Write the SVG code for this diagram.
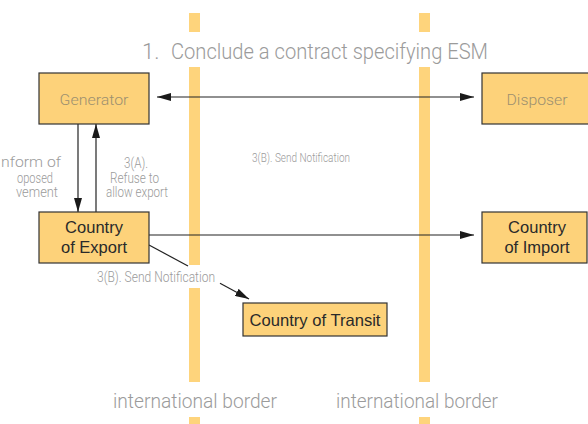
<svg xmlns="http://www.w3.org/2000/svg" width="588" height="424" viewBox="0 0 588 424">
<defs>
<style>
.bar{fill:#FED47C}
.box{fill:#FDD27A;stroke:#333;stroke-width:1.2}
.lt{font-family:Roboto,"Liberation Sans",Arial,sans-serif;fill:#9b9b9b;font-weight:300}
.dk{font-family:"Liberation Sans",Arial,sans-serif;fill:#2a2a2a;font-size:16.5px;text-anchor:middle}
.gl{font-family:Roboto,"Liberation Sans",Arial,sans-serif;font-weight:300;fill:#9c9070;font-size:15.5px;text-anchor:middle}
.cn{stroke:#222;stroke-width:1.2;fill:none}
</style>
<marker id="ah" viewBox="0 0 14 8" refX="14" refY="4" markerWidth="14" markerHeight="8" orient="auto-start-reverse" markerUnits="userSpaceOnUse">
<path d="M0,0 L14,4 L0,8 z" fill="#1a1a1a"/>
</marker>
</defs>
<rect width="588" height="424" fill="#fff"/>
<g id="borders">
<rect class="bar" x="189" y="13" width="11" height="19"/>
<rect class="bar" x="189" y="67" width="11" height="198"/>
<rect class="bar" x="189" y="288" width="11" height="94"/>
<rect class="bar" x="189" y="417" width="11" height="7"/>
<rect class="bar" x="419" y="13" width="11" height="19"/>
<rect class="bar" x="419" y="67" width="11" height="315"/>
<rect class="bar" x="419" y="417" width="11" height="7"/>
</g>
<g id="labels">
<text class="lt" y="59" font-size="22"><tspan x="142">1.</tspan><tspan x="171" textLength="317" lengthAdjust="spacingAndGlyphs">Conclude a contract specifying ESM</tspan></text>
<text class="lt" x="113" y="408" font-size="21" textLength="164" lengthAdjust="spacingAndGlyphs">international border</text>
<text class="lt" x="336" y="408" font-size="21" textLength="162" lengthAdjust="spacingAndGlyphs">international border</text>
<text class="lt" x="252" y="162" font-size="13" textLength="98" lengthAdjust="spacingAndGlyphs">3(B). Send Notification</text>
<text class="lt" x="97" y="282" font-size="14.5" textLength="118" lengthAdjust="spacingAndGlyphs">3(B). Send Notification</text>
<g font-size="14.5">
<text class="lt" x="124" y="168" textLength="24" lengthAdjust="spacingAndGlyphs">3(A).</text>
<text class="lt" x="110" y="183" textLength="49" lengthAdjust="spacingAndGlyphs">Refuse to</text>
<text class="lt" x="106" y="196.5" textLength="62" lengthAdjust="spacingAndGlyphs">allow export</text>
</g>
<g font-size="14.5">
<text class="lt" x="1" y="167" textLength="60" lengthAdjust="spacingAndGlyphs">nform of</text>
<text class="lt" x="17" y="182.5" textLength="36" lengthAdjust="spacingAndGlyphs">oposed</text>
<text class="lt" x="16" y="196.5" textLength="42" lengthAdjust="spacingAndGlyphs">vement</text>
</g>
</g>
<g id="connectors">
<line class="cn" x1="157" y1="97" x2="474" y2="97" marker-start="url(#ah)" marker-end="url(#ah)"/>
<line class="cn" x1="78" y1="124" x2="78" y2="212" marker-end="url(#ah)"/>
<line class="cn" x1="96" y1="212" x2="96" y2="124" stroke="#555" marker-end="url(#ah)"/>
<line class="cn" x1="149" y1="235" x2="474" y2="235" marker-end="url(#ah)"/>
<line class="cn" x1="149" y1="245" x2="188" y2="266"/>
<line class="cn" x1="220" y1="283.3" x2="249" y2="299" marker-end="url(#ah)"/>
</g>
<g id="generator">
<rect class="box" x="39" y="73" width="110" height="51"/>
<text class="gl" x="94" y="105" textLength="69" lengthAdjust="spacingAndGlyphs">Generator</text>
</g>
<g id="disposer">
<rect class="box" x="482" y="73" width="112" height="51"/>
<text class="gl" x="537" y="105" textLength="61" lengthAdjust="spacingAndGlyphs">Disposer</text>
</g>
<g id="export">
<rect class="box" x="39" y="212" width="110" height="51"/>
<text class="dk" x="94" y="232.5">Country</text>
<text class="dk" x="94" y="253">of Export</text>
</g>
<g id="import">
<rect class="box" x="482" y="212" width="105" height="51"/>
<text class="dk" x="537" y="233">Country</text>
<text class="dk" x="537" y="253">of Import</text>
</g>
<g id="transit">
<rect class="box" x="243" y="303" width="144" height="33"/>
<text class="dk" x="315" y="325.5" textLength="131" lengthAdjust="spacingAndGlyphs">Country of Transit</text>
</g>
</svg>
